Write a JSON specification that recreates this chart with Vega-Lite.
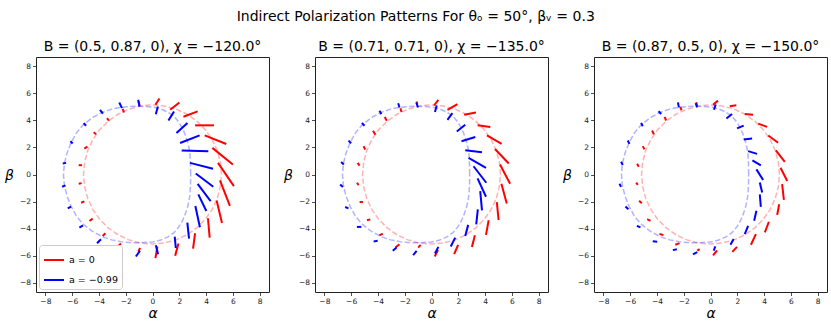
{
"$schema": "https://vega.github.io/schema/vega-lite/v6.json",
"padding": {"left": 4, "top": 9, "right": 2, "bottom": 2},
"title": {"text": "Indirect Polarization Patterns For θₒ = 50°, βᵥ = 0.3", "fontSize": 14, "font": "DejaVu Sans", "fontWeight": "normal", "anchor": "middle", "offset": 16},
"datasets": {
"rings": [
{"s":"a = 0","i":0,"x":5.15,"y":0},{"s":"a = 0","i":1,"x":5.07,"y":0.89},{"s":"a = 0","i":2,"x":4.84,"y":1.76},{"s":"a = 0","i":3,"x":4.46,"y":2.58},{"s":"a = 0","i":4,"x":3.95,"y":3.31},{"s":"a = 0","i":5,"x":3.31,"y":3.95},{"s":"a = 0","i":6,"x":2.58,"y":4.46},{"s":"a = 0","i":7,"x":1.76,"y":4.84},{"s":"a = 0","i":8,"x":0.89,"y":5.07},{"s":"a = 0","i":9,"x":0,"y":5.15},{"s":"a = 0","i":10,"x":-0.89,"y":5.07},{"s":"a = 0","i":11,"x":-1.76,"y":4.84},{"s":"a = 0","i":12,"x":-2.58,"y":4.46},{"s":"a = 0","i":13,"x":-3.31,"y":3.95},{"s":"a = 0","i":14,"x":-3.95,"y":3.31},{"s":"a = 0","i":15,"x":-4.46,"y":2.58},{"s":"a = 0","i":16,"x":-4.84,"y":1.76},{"s":"a = 0","i":17,"x":-5.07,"y":0.89},{"s":"a = 0","i":18,"x":-5.15,"y":0},{"s":"a = 0","i":19,"x":-5.07,"y":-0.89},{"s":"a = 0","i":20,"x":-4.84,"y":-1.76},{"s":"a = 0","i":21,"x":-4.46,"y":-2.58},{"s":"a = 0","i":22,"x":-3.95,"y":-3.31},{"s":"a = 0","i":23,"x":-3.31,"y":-3.95},{"s":"a = 0","i":24,"x":-2.58,"y":-4.46},{"s":"a = 0","i":25,"x":-1.76,"y":-4.84},{"s":"a = 0","i":26,"x":-0.89,"y":-5.07},{"s":"a = 0","i":27,"x":0,"y":-5.15},{"s":"a = 0","i":28,"x":0.89,"y":-5.07},{"s":"a = 0","i":29,"x":1.76,"y":-4.84},{"s":"a = 0","i":30,"x":2.58,"y":-4.46},{"s":"a = 0","i":31,"x":3.31,"y":-3.95},{"s":"a = 0","i":32,"x":3.95,"y":-3.31},{"s":"a = 0","i":33,"x":4.46,"y":-2.58},{"s":"a = 0","i":34,"x":4.84,"y":-1.76},{"s":"a = 0","i":35,"x":5.07,"y":-0.89},{"s":"a = 0","i":36,"x":5.15,"y":0},
{"s":"a = −0.99","i":0,"x":2.85,"y":0},{"s":"a = −0.99","i":1,"x":2.84,"y":0.7},{"s":"a = −0.99","i":2,"x":2.8,"y":1.47},{"s":"a = −0.99","i":3,"x":2.72,"y":2.0},{"s":"a = −0.99","i":4,"x":2.6,"y":2.46},{"s":"a = −0.99","i":5,"x":2.43,"y":2.97},{"s":"a = −0.99","i":6,"x":2.23,"y":3.44},{"s":"a = −0.99","i":7,"x":1.95,"y":3.9},{"s":"a = −0.99","i":8,"x":1.61,"y":4.3},{"s":"a = −0.99","i":9,"x":1.15,"y":4.62},{"s":"a = −0.99","i":10,"x":0.62,"y":4.85},{"s":"a = −0.99","i":11,"x":0.0,"y":5.0},{"s":"a = −0.99","i":12,"x":-1.0,"y":5.06},{"s":"a = −0.99","i":13,"x":-1.7,"y":5.04},{"s":"a = −0.99","i":14,"x":-2.36,"y":4.97},{"s":"a = −0.99","i":15,"x":-3.05,"y":4.84},{"s":"a = −0.99","i":16,"x":-3.72,"y":4.62},{"s":"a = −0.99","i":17,"x":-4.5,"y":4.2},{"s":"a = −0.99","i":18,"x":-5.21,"y":3.65},{"s":"a = −0.99","i":19,"x":-5.7,"y":3.05},{"s":"a = −0.99","i":20,"x":-6.08,"y":2.35},{"s":"a = −0.99","i":21,"x":-6.38,"y":1.6},{"s":"a = −0.99","i":22,"x":-6.58,"y":0.81},{"s":"a = −0.99","i":23,"x":-6.65,"y":0},{"s":"a = −0.99","i":24,"x":-6.58,"y":-0.81},{"s":"a = −0.99","i":25,"x":-6.38,"y":-1.6},{"s":"a = −0.99","i":26,"x":-6.08,"y":-2.35},{"s":"a = −0.99","i":27,"x":-5.7,"y":-3.05},{"s":"a = −0.99","i":28,"x":-5.21,"y":-3.65},{"s":"a = −0.99","i":29,"x":-4.5,"y":-4.2},{"s":"a = −0.99","i":30,"x":-3.72,"y":-4.62},{"s":"a = −0.99","i":31,"x":-3.05,"y":-4.84},{"s":"a = −0.99","i":32,"x":-2.36,"y":-4.97},{"s":"a = −0.99","i":33,"x":-1.7,"y":-5.04},{"s":"a = −0.99","i":34,"x":-1.0,"y":-5.06},{"s":"a = −0.99","i":35,"x":0.0,"y":-5.0},{"s":"a = −0.99","i":36,"x":0.62,"y":-4.85},{"s":"a = −0.99","i":37,"x":1.15,"y":-4.62},{"s":"a = −0.99","i":38,"x":1.61,"y":-4.3},{"s":"a = −0.99","i":39,"x":1.95,"y":-3.9},{"s":"a = −0.99","i":40,"x":2.23,"y":-3.44},{"s":"a = −0.99","i":41,"x":2.43,"y":-2.97},{"s":"a = −0.99","i":42,"x":2.6,"y":-2.46},{"s":"a = −0.99","i":43,"x":2.72,"y":-2.0},{"s":"a = −0.99","i":44,"x":2.8,"y":-1.47},{"s":"a = −0.99","i":45,"x":2.84,"y":-0.7},{"s":"a = −0.99","i":46,"x":2.85,"y":0}
],
"ticks": [
{"p":1,"s":"a = 0","x":0.22,"y":5.16,"x2":0.52,"y2":5.63},
{"p":1,"s":"a = 0","x":1.32,"y":4.79,"x2":2.01,"y2":5.33},
{"p":1,"s":"a = 0","x":2.31,"y":4.28,"x2":3.37,"y2":4.67},
{"p":1,"s":"a = 0","x":3.18,"y":3.64,"x2":4.59,"y2":3.64},
{"p":1,"s":"a = 0","x":3.9,"y":2.9,"x2":5.51,"y2":2.26},
{"p":1,"s":"a = 0","x":4.47,"y":1.97,"x2":6.0,"y2":0.74},
{"p":1,"s":"a = 0","x":4.89,"y":0.86,"x2":6.08,"y2":-0.86},
{"p":1,"s":"a = 0","x":5.04,"y":-0.44,"x2":5.78,"y2":-2.33},
{"p":1,"s":"a = 0","x":4.79,"y":-1.92,"x2":5.19,"y2":-3.59},
{"p":1,"s":"a = 0","x":4.14,"y":-3.24,"x2":4.27,"y2":-4.67},
{"p":1,"s":"a = 0","x":3.18,"y":-4.35,"x2":3.03,"y2":-5.48},
{"p":1,"s":"a = 0","x":1.94,"y":-5.11,"x2":1.69,"y2":-6.02},
{"p":1,"s":"a = 0","x":0.37,"y":-5.33,"x2":0.22,"y2":-6.19},
{"p":1,"s":"a = 0","x":-1.07,"y":-5.7,"x2":-0.92,"y2":-5.45},
{"p":1,"s":"a = 0","x":-2.61,"y":-5.36,"x2":-2.36,"y2":-5.11},
{"p":1,"s":"a = 0","x":-3.72,"y":-4.55,"x2":-3.52,"y2":-4.35},
{"p":1,"s":"a = 0","x":-4.71,"y":-3.44,"x2":-4.47,"y2":-3.27},
{"p":1,"s":"a = 0","x":-5.33,"y":-2.09,"x2":-5.09,"y2":-1.99},
{"p":1,"s":"a = 0","x":-5.51,"y":-0.69,"x2":-5.29,"y2":-0.64},
{"p":1,"s":"a = 0","x":-5.51,"y":0.69,"x2":-5.26,"y2":0.69},
{"p":1,"s":"a = 0","x":-5.09,"y":1.92,"x2":-4.86,"y2":2.06},
{"p":1,"s":"a = 0","x":-4.39,"y":3.14,"x2":-4.22,"y2":2.97},
{"p":1,"s":"a = 0","x":-3.4,"y":4.18,"x2":-3.25,"y2":3.98},
{"p":1,"s":"a = 0","x":-2.23,"y":4.86,"x2":-2.13,"y2":4.59},
{"p":1,"s":"a = 0","x":-1.04,"y":5.41,"x2":-0.97,"y2":5.11},
{"p":1,"s":"a = −0.99","x":-1.07,"y":5.53,"x2":-0.97,"y2":5.04},
{"p":1,"s":"a = −0.99","x":0.25,"y":4.47,"x2":0.4,"y2":5.04},
{"p":1,"s":"a = −0.99","x":1.19,"y":4.0,"x2":1.61,"y2":4.67},
{"p":1,"s":"a = −0.99","x":1.79,"y":3.07,"x2":2.61,"y2":3.81},
{"p":1,"s":"a = −0.99","x":2.06,"y":2.33,"x2":3.52,"y2":2.9},
{"p":1,"s":"a = −0.99","x":2.18,"y":1.77,"x2":4.17,"y2":1.72},
{"p":1,"s":"a = −0.99","x":2.8,"y":0.86,"x2":4.52,"y2":0.42},
{"p":1,"s":"a = −0.99","x":3.23,"y":0.07,"x2":4.54,"y2":-0.91},
{"p":1,"s":"a = −0.99","x":3.37,"y":-0.69,"x2":4.34,"y2":-1.97},
{"p":1,"s":"a = −0.99","x":3.42,"y":-1.47,"x2":4.02,"y2":-2.7},
{"p":1,"s":"a = −0.99","x":3.2,"y":-2.33,"x2":3.54,"y2":-3.9},
{"p":1,"s":"a = −0.99","x":2.6,"y":-3.56,"x2":2.73,"y2":-4.75},
{"p":1,"s":"a = −0.99","x":1.66,"y":-4.6,"x2":1.74,"y2":-5.44},
{"p":1,"s":"a = −0.99","x":0.25,"y":-5.23,"x2":0.42,"y2":-5.9},
{"p":1,"s":"a = −0.99","x":-1.24,"y":-6.07,"x2":-0.94,"y2":-5.65},
{"p":1,"s":"a = −0.99","x":-2.73,"y":-5.77,"x2":-2.48,"y2":-5.41},
{"p":1,"s":"a = −0.99","x":-4.14,"y":-5.09,"x2":-3.85,"y2":-4.79},
{"p":1,"s":"a = −0.99","x":-5.46,"y":-3.93,"x2":-5.19,"y2":-3.76},
{"p":1,"s":"a = −0.99","x":-6.33,"y":-2.51,"x2":-6.08,"y2":-2.38},
{"p":1,"s":"a = −0.99","x":-6.75,"y":-0.91,"x2":-6.5,"y2":-0.81},
{"p":1,"s":"a = −0.99","x":-6.7,"y":0.81,"x2":-6.45,"y2":0.86},
{"p":1,"s":"a = −0.99","x":-6.13,"y":2.46,"x2":-5.96,"y2":2.29},
{"p":1,"s":"a = −0.99","x":-5.14,"y":3.81,"x2":-4.96,"y2":3.61},
{"p":1,"s":"a = −0.99","x":-3.92,"y":4.79,"x2":-3.7,"y2":4.5},
{"p":1,"s":"a = −0.99","x":-2.48,"y":5.33,"x2":-2.28,"y2":4.91},
{"p":2,"s":"a = 0","x":0.19,"y":5.11,"x2":0.51,"y2":5.53},
{"p":2,"s":"a = 0","x":1.19,"y":4.79,"x2":1.94,"y2":5.21},
{"p":2,"s":"a = 0","x":2.44,"y":4.42,"x2":3.32,"y2":4.59},
{"p":2,"s":"a = 0","x":3.44,"y":3.64,"x2":4.39,"y2":3.51},
{"p":2,"s":"a = 0","x":4.14,"y":2.9,"x2":5.24,"y2":2.26},
{"p":2,"s":"a = 0","x":4.74,"y":1.89,"x2":5.77,"y2":0.81},
{"p":2,"s":"a = 0","x":5.12,"y":0.74,"x2":5.87,"y2":-0.69},
{"p":2,"s":"a = 0","x":5.22,"y":-0.69,"x2":5.62,"y2":-2.14},
{"p":2,"s":"a = 0","x":4.88,"y":-2.04,"x2":5.01,"y2":-3.37},
{"p":2,"s":"a = 0","x":4.27,"y":-3.39,"x2":4.07,"y2":-4.47},
{"p":2,"s":"a = 0","x":3.24,"y":-4.5,"x2":3.02,"y2":-5.36},
{"p":2,"s":"a = 0","x":1.99,"y":-5.21,"x2":1.69,"y2":-5.9},
{"p":2,"s":"a = 0","x":0.49,"y":-5.6,"x2":0.24,"y2":-6.07},
{"p":2,"s":"a = 0","x":-0.99,"y":-5.41,"x2":-0.81,"y2":-5.21},
{"p":2,"s":"a = 0","x":-2.69,"y":-5.41,"x2":-2.39,"y2":-5.16},
{"p":2,"s":"a = 0","x":-3.89,"y":-4.5,"x2":-3.64,"y2":-4.37},
{"p":2,"s":"a = 0","x":-4.82,"y":-3.39,"x2":-4.57,"y2":-3.32},
{"p":2,"s":"a = 0","x":-5.37,"y":-2.04,"x2":-5.12,"y2":-2.04},
{"p":2,"s":"a = 0","x":-5.57,"y":-0.61,"x2":-5.44,"y2":-0.79},
{"p":2,"s":"a = 0","x":-5.52,"y":0.86,"x2":-5.37,"y2":0.66},
{"p":2,"s":"a = 0","x":-5.07,"y":2.09,"x2":-4.95,"y2":1.84},
{"p":2,"s":"a = 0","x":-4.37,"y":3.24,"x2":-4.19,"y2":2.95},
{"p":2,"s":"a = 0","x":-3.49,"y":4.25,"x2":-3.34,"y2":3.98},
{"p":2,"s":"a = 0","x":-2.32,"y":4.91,"x2":-2.24,"y2":4.62},
{"p":2,"s":"a = 0","x":-1.11,"y":5.41,"x2":-1.06,"y2":5.16},
{"p":2,"s":"a = −0.99","x":-1.14,"y":5.33,"x2":-1.01,"y2":4.96},
{"p":2,"s":"a = −0.99","x":-2.49,"y":5.28,"x2":-2.39,"y2":4.96},
{"p":2,"s":"a = −0.99","x":-3.89,"y":4.72,"x2":-3.74,"y2":4.47},
{"p":2,"s":"a = −0.99","x":-5.2,"y":3.81,"x2":-5.0,"y2":3.61},
{"p":2,"s":"a = −0.99","x":-6.2,"y":2.51,"x2":-6.0,"y2":2.31},
{"p":2,"s":"a = −0.99","x":-6.75,"y":0.93,"x2":-6.55,"y2":0.74},
{"p":2,"s":"a = −0.99","x":-6.82,"y":-0.74,"x2":-6.62,"y2":-0.93},
{"p":2,"s":"a = −0.99","x":-6.45,"y":-2.41,"x2":-6.2,"y2":-2.51},
{"p":2,"s":"a = −0.99","x":-5.57,"y":-3.88,"x2":-5.24,"y2":-3.88},
{"p":2,"s":"a = −0.99","x":-4.32,"y":-4.96,"x2":-4.02,"y2":-4.91},
{"p":2,"s":"a = −0.99","x":-2.89,"y":-5.65,"x2":-2.61,"y2":-5.41},
{"p":2,"s":"a = −0.99","x":-1.37,"y":-5.97,"x2":-1.11,"y2":-5.65},
{"p":2,"s":"a = −0.99","x":0.26,"y":4.62,"x2":0.39,"y2":5.11},
{"p":2,"s":"a = −0.99","x":1.19,"y":4.05,"x2":1.56,"y2":4.55},
{"p":2,"s":"a = −0.99","x":1.89,"y":3.19,"x2":2.52,"y2":3.69},
{"p":2,"s":"a = −0.99","x":2.24,"y":2.46,"x2":3.27,"y2":2.78},
{"p":2,"s":"a = −0.99","x":2.52,"y":1.79,"x2":3.77,"y2":1.65},
{"p":2,"s":"a = −0.99","x":2.77,"y":1.23,"x2":4.07,"y2":0.49},
{"p":2,"s":"a = −0.99","x":3.14,"y":0.61,"x2":4.09,"y2":-0.61},
{"p":2,"s":"a = −0.99","x":3.44,"y":-0.29,"x2":4.07,"y2":-1.65},
{"p":2,"s":"a = −0.99","x":3.64,"y":-1.23,"x2":3.77,"y2":-2.65},
{"p":2,"s":"a = −0.99","x":3.46,"y":-2.58,"x2":3.34,"y2":-3.69},
{"p":2,"s":"a = −0.99","x":2.74,"y":-3.73,"x2":2.52,"y2":-4.55},
{"p":2,"s":"a = −0.99","x":1.77,"y":-4.67,"x2":1.44,"y2":-5.33},
{"p":2,"s":"a = −0.99","x":0.51,"y":-5.36,"x2":0.26,"y2":-5.85},
{"p":3,"s":"a = 0","x":0.19,"y":5.17,"x2":0.56,"y2":5.47},
{"p":3,"s":"a = 0","x":1.44,"y":5.05,"x2":1.93,"y2":5.12},
{"p":3,"s":"a = 0","x":2.56,"y":4.48,"x2":3.18,"y2":4.43},
{"p":3,"s":"a = 0","x":3.56,"y":3.77,"x2":4.23,"y2":3.53},
{"p":3,"s":"a = 0","x":4.31,"y":2.89,"x2":5.05,"y2":2.35},
{"p":3,"s":"a = 0","x":4.88,"y":1.78,"x2":5.55,"y2":0.94},
{"p":3,"s":"a = 0","x":5.23,"y":0.5,"x2":5.73,"y2":-0.48},
{"p":3,"s":"a = 0","x":5.35,"y":-0.72,"x2":5.48,"y2":-1.88},
{"p":3,"s":"a = 0","x":5.13,"y":-2.2,"x2":4.98,"y2":-2.99},
{"p":3,"s":"a = 0","x":4.36,"y":-3.5,"x2":4.06,"y2":-4.29},
{"p":3,"s":"a = 0","x":3.39,"y":-4.41,"x2":3.02,"y2":-5.2},
{"p":3,"s":"a = 0","x":1.98,"y":-5.36,"x2":1.63,"y2":-5.73},
{"p":3,"s":"a = 0","x":0.49,"y":-5.61,"x2":0.19,"y2":-5.98},
{"p":3,"s":"a = 0","x":-0.99,"y":-5.64,"x2":-0.81,"y2":-5.52},
{"p":3,"s":"a = 0","x":-2.63,"y":-5.2,"x2":-2.31,"y2":-5.08},
{"p":3,"s":"a = 0","x":-3.81,"y":-4.41,"x2":-3.51,"y2":-4.49},
{"p":3,"s":"a = 0","x":-4.73,"y":-3.31,"x2":-4.48,"y2":-3.43},
{"p":3,"s":"a = 0","x":-5.33,"y":-1.95,"x2":-5.13,"y2":-2.13},
{"p":3,"s":"a = 0","x":-5.55,"y":-0.6,"x2":-5.43,"y2":-0.77},
{"p":3,"s":"a = 0","x":-5.48,"y":0.8,"x2":-5.36,"y2":0.58},
{"p":3,"s":"a = 0","x":-5.06,"y":2.1,"x2":-4.93,"y2":1.86},
{"p":3,"s":"a = 0","x":-4.36,"y":3.26,"x2":-4.23,"y2":2.97},
{"p":3,"s":"a = 0","x":-3.43,"y":4.27,"x2":-3.31,"y2":4.0},
{"p":3,"s":"a = 0","x":-2.26,"y":5.0,"x2":-2.16,"y2":4.75},
{"p":3,"s":"a = 0","x":-1.06,"y":5.35,"x2":-1.01,"y2":5.1},
{"p":3,"s":"a = −0.99","x":-1.11,"y":5.29,"x2":-0.99,"y2":4.97},
{"p":3,"s":"a = −0.99","x":-2.43,"y":5.34,"x2":-2.36,"y2":4.97},
{"p":3,"s":"a = −0.99","x":-3.88,"y":4.68,"x2":-3.68,"y2":4.48},
{"p":3,"s":"a = −0.99","x":-5.18,"y":3.82,"x2":-5.06,"y2":3.57},
{"p":3,"s":"a = −0.99","x":-6.18,"y":2.52,"x2":-6.05,"y2":2.27},
{"p":3,"s":"a = −0.99","x":-6.68,"y":0.95,"x2":-6.55,"y2":0.7},
{"p":3,"s":"a = −0.99","x":-6.8,"y":-0.68,"x2":-6.68,"y2":-0.92},
{"p":3,"s":"a = −0.99","x":-6.35,"y":-2.37,"x2":-6.13,"y2":-2.57},
{"p":3,"s":"a = −0.99","x":-5.5,"y":-3.8,"x2":-5.23,"y2":-3.92},
{"p":3,"s":"a = −0.99","x":-4.31,"y":-4.95,"x2":-3.98,"y2":-4.98},
{"p":3,"s":"a = −0.99","x":-2.81,"y":-5.6,"x2":-2.51,"y2":-5.53},
{"p":3,"s":"a = −0.99","x":-1.31,"y":-5.91,"x2":-0.99,"y2":-5.74},
{"p":3,"s":"a = −0.99","x":0.26,"y":4.79,"x2":0.39,"y2":5.18},
{"p":3,"s":"a = −0.99","x":1.19,"y":4.14,"x2":1.61,"y2":4.48},
{"p":3,"s":"a = −0.99","x":1.98,"y":3.41,"x2":2.48,"y2":3.62},
{"p":3,"s":"a = −0.99","x":2.48,"y":2.6,"x2":3.11,"y2":2.67},
{"p":3,"s":"a = −0.99","x":2.81,"y":1.73,"x2":3.48,"y2":1.53},
{"p":3,"s":"a = −0.99","x":3.13,"y":1.05,"x2":3.76,"y2":0.67},
{"p":3,"s":"a = −0.99","x":3.43,"y":0.38,"x2":3.93,"y2":-0.41},
{"p":3,"s":"a = −0.99","x":3.68,"y":-0.6,"x2":3.86,"y2":-1.34},
{"p":3,"s":"a = −0.99","x":3.68,"y":-1.47,"x2":3.76,"y2":-2.4},
{"p":3,"s":"a = −0.99","x":3.43,"y":-2.69,"x2":3.26,"y2":-3.43},
{"p":3,"s":"a = −0.99","x":2.81,"y":-3.8,"x2":2.56,"y2":-4.41},
{"p":3,"s":"a = −0.99","x":1.73,"y":-4.78,"x2":1.49,"y2":-5.2},
{"p":3,"s":"a = −0.99","x":0.36,"y":-5.32,"x2":0.24,"y2":-5.64}
]
},
"hconcat": [
{
"width": 233, "height": 235,
"title": {"text": "B = (0.5, 0.87, 0), χ = −120.0°"},
"encoding": {
  "x": {"field": "x", "type": "quantitative", "scale": {"domain": [-8.7, 8.7], "nice": false, "zero": false}, "axis": {"values": [-8,-6,-4,-2,0,2,4,6,8], "labelOverlap": false, "title": "α", "titleX": 116.5, "titleY": 25, "titleBaseline": "alphabetic", "titleAlign": "center"}},
  "y": {"field": "y", "type": "quantitative", "scale": {"domain": [-8.7, 8.7], "nice": false, "zero": false}, "axis": {"values": [-8,-6,-4,-2,0,2,4,6,8], "labelOverlap": false, "title": "β", "titleAngle": 0, "titleX": -27, "titleY": 122, "titleBaseline": "alphabetic", "titleAlign": "center"}}
},
"layer": [
{"data": {"name": "rings"}, "transform": [{"filter": "datum.s == 'a = 0'"}], "mark": {"type": "line", "strokeDash": [5.5, 2.4], "strokeWidth": 1.5, "opacity": 0.3, "color": "#ff0000"},
 "encoding": {"order": {"field": "i", "type": "quantitative"}}},
{"data": {"name": "rings"}, "transform": [{"filter": "datum.s != 'a = 0'"}], "mark": {"type": "line", "strokeDash": [5.5, 2.4], "strokeWidth": 1.5, "opacity": 0.3, "color": "#0000ff"},
 "encoding": {"order": {"field": "i", "type": "quantitative"}}},
{"data": {"name": "ticks"}, "transform": [{"filter": "datum.p == 1"}], "mark": {"type": "rule", "strokeWidth": 2},
 "encoding": {
  "x2": {"field": "x2"}, "y2": {"field": "y2"},
  "color": {"field": "s", "type": "nominal", "scale": {"domain": ["a = 0", "a = −0.99"], "range": ["#ff0000", "#0000ff"]},
   "legend": {"orient": "bottom-left", "offset": 3, "title": null, "symbolType": "stroke", "symbolSize": 400, "symbolStrokeWidth": 2, "labelFontSize": 9.5, "labelFont": "DejaVu Sans", "padding": 4, "fillColor": "white", "strokeColor": "#cccccc", "cornerRadius": 3, "rowPadding": 4}}
 }}
]
},
{
"width": 233, "height": 235,
"title": {"text": "B = (0.71, 0.71, 0), χ = −135.0°"},
"encoding": {
  "x": {"field": "x", "type": "quantitative", "scale": {"domain": [-8.7, 8.7], "nice": false, "zero": false}, "axis": {"values": [-8,-6,-4,-2,0,2,4,6,8], "labelOverlap": false, "title": "α", "titleX": 116.5, "titleY": 25, "titleBaseline": "alphabetic", "titleAlign": "center"}},
  "y": {"field": "y", "type": "quantitative", "scale": {"domain": [-8.7, 8.7], "nice": false, "zero": false}, "axis": {"values": [-8,-6,-4,-2,0,2,4,6,8], "labelOverlap": false, "title": "β", "titleAngle": 0, "titleX": -27, "titleY": 122, "titleBaseline": "alphabetic", "titleAlign": "center"}}
},
"layer": [
{"data": {"name": "rings"}, "transform": [{"filter": "datum.s == 'a = 0'"}], "mark": {"type": "line", "strokeDash": [5.5, 2.4], "strokeWidth": 1.5, "opacity": 0.3, "color": "#ff0000"},
 "encoding": {"order": {"field": "i", "type": "quantitative"}}},
{"data": {"name": "rings"}, "transform": [{"filter": "datum.s != 'a = 0'"}], "mark": {"type": "line", "strokeDash": [5.5, 2.4], "strokeWidth": 1.5, "opacity": 0.3, "color": "#0000ff"},
 "encoding": {"order": {"field": "i", "type": "quantitative"}}},
{"data": {"name": "ticks"}, "transform": [{"filter": "datum.p == 2"}], "mark": {"type": "rule", "strokeWidth": 2},
 "encoding": {
  "x2": {"field": "x2"}, "y2": {"field": "y2"},
  "color": {"field": "s", "type": "nominal", "scale": {"domain": ["a = 0", "a = −0.99"], "range": ["#ff0000", "#0000ff"]}, "legend": null}
 }}
]
},
{
"width": 233, "height": 235,
"title": {"text": "B = (0.87, 0.5, 0), χ = −150.0°"},
"encoding": {
  "x": {"field": "x", "type": "quantitative", "scale": {"domain": [-8.7, 8.7], "nice": false, "zero": false}, "axis": {"values": [-8,-6,-4,-2,0,2,4,6,8], "labelOverlap": false, "title": "α", "titleX": 116.5, "titleY": 25, "titleBaseline": "alphabetic", "titleAlign": "center"}},
  "y": {"field": "y", "type": "quantitative", "scale": {"domain": [-8.7, 8.7], "nice": false, "zero": false}, "axis": {"values": [-8,-6,-4,-2,0,2,4,6,8], "labelOverlap": false, "title": "β", "titleAngle": 0, "titleX": -27, "titleY": 122, "titleBaseline": "alphabetic", "titleAlign": "center"}}
},
"layer": [
{"data": {"name": "rings"}, "transform": [{"filter": "datum.s == 'a = 0'"}], "mark": {"type": "line", "strokeDash": [5.5, 2.4], "strokeWidth": 1.5, "opacity": 0.3, "color": "#ff0000"},
 "encoding": {"order": {"field": "i", "type": "quantitative"}}},
{"data": {"name": "rings"}, "transform": [{"filter": "datum.s != 'a = 0'"}], "mark": {"type": "line", "strokeDash": [5.5, 2.4], "strokeWidth": 1.5, "opacity": 0.3, "color": "#0000ff"},
 "encoding": {"order": {"field": "i", "type": "quantitative"}}},
{"data": {"name": "ticks"}, "transform": [{"filter": "datum.p == 3"}], "mark": {"type": "rule", "strokeWidth": 2},
 "encoding": {
  "x2": {"field": "x2"}, "y2": {"field": "y2"},
  "color": {"field": "s", "type": "nominal", "scale": {"domain": ["a = 0", "a = −0.99"], "range": ["#ff0000", "#0000ff"]}, "legend": null}
 }}
]
}
],
"spacing": 46,
"bounds": "flush",
"resolve": {"scale": {"color": "independent"}, "legend": {"color": "independent"}},
"config": {
 "font": "DejaVu Sans",
 "view": {"stroke": "#222222", "strokeWidth": 1},
 "axis": {"grid": false, "domain": false, "labelOverlap": false, "labelFlush": false, "labelFont": "DejaVu Sans", "labelFontSize": 7.5, "labelColor": "#222222", "labelPadding": 2, "tickColor": "#222222", "tickSize": 3.5, "tickWidth": 0.8, "titleFont": "DejaVu Sans", "titleFontSize": 14, "titleFontWeight": "normal", "titleFontStyle": "italic", "titleColor": "#000000"},
 "title": {"font": "DejaVu Sans", "fontSize": 14, "fontWeight": "normal", "color": "#000000", "offset": 3},
 "legend": {"labelColor": "#000000"}
}
}
